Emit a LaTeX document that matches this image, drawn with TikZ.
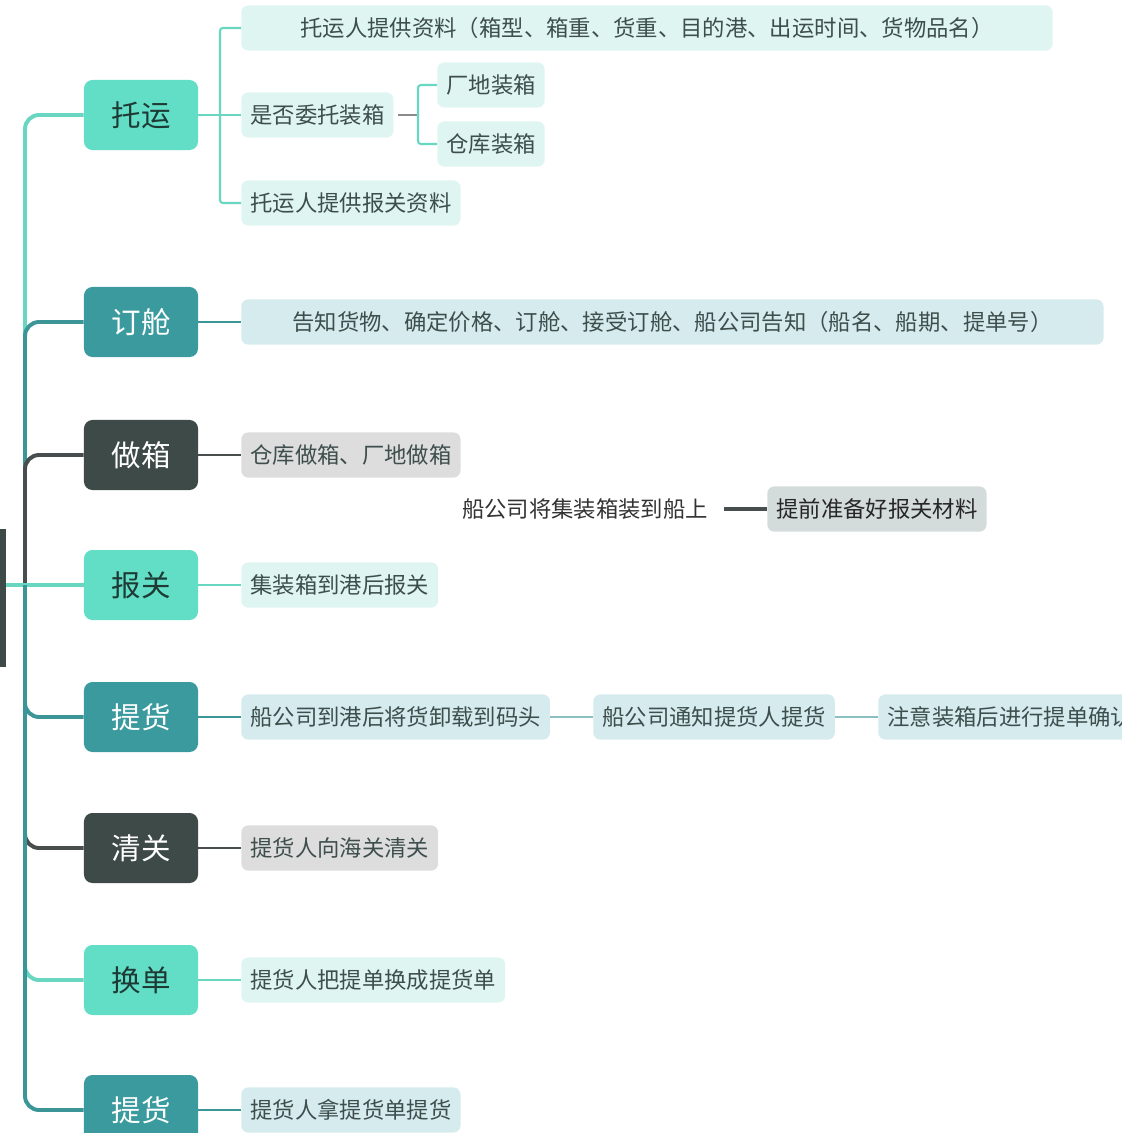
\documentclass[tikz,border=0pt]{standalone}
\usepackage{fontspec}
\setmainfont{Noto Sans CJK SC}
\definecolor{maplight}{RGB}{98,221,198}
\definecolor{mapteal}{RGB}{58,154,158}
\definecolor{mapdark}{RGB}{62,74,71}
\definecolor{maplightline}{RGB}{104,214,192}
\definecolor{maptealline}{RGB}{60,150,152}
\definecolor{mapdarkline}{RGB}{72,78,77}
\definecolor{submint}{RGB}{222,245,241}
\definecolor{subblue}{RGB}{213,235,238}
\definecolor{subgray}{RGB}{221,221,221}
\definecolor{subprep}{RGB}{212,219,219}
\definecolor{subtext}{RGB}{62,78,76}
\definecolor{cattext}{RGB}{30,58,52}
\usetikzlibrary{positioning,calc}

\begin{document}
\begin{tikzpicture}[x=0.025cm,y=-0.025cm,
  catbox/.style={rounded corners=6pt,minimum width=2.85cm,minimum height=1.75cm,
    inner sep=0pt,font=\fontsize{21pt}{24pt}\selectfont},
  lightcat/.style={catbox,fill=maplight,text=cattext},
  tealcat/.style={catbox,fill=mapteal,text=white},
  darkcat/.style={catbox,fill=mapdark,text=white},
  subbox/.style={rounded corners=5pt,minimum height=1.13cm,anchor=west,inner xsep=6.4pt,
    inner ysep=0pt,text=subtext,font=\fontsize{15.9pt}{18pt}\selectfont},
  trunk/.style={line width=2.8pt,rounded corners=10pt},
  twig/.style={line width=1.5pt,rounded corners=2pt}
]
  \useasboundingbox (0,0) rectangle (1122,1133);

  % root, cut off at the left edge
  \node[fill=mapdark,minimum width=3.3cm,minimum height=3.425cm,inner sep=0pt] (root) at (-60,598) {};
  \coordinate (hub) at (25,585);

  % main steps
  \node[lightcat] (tuoyun) at (141,115) {托运};
  \node[tealcat] (dingcang) at (141,322) {订舱};
  \node[darkcat] (zuoxiang) at (141,455) {做箱};
  \node[lightcat] (baoguan) at (141,585) {报关};
  \node[tealcat] (tihuo) at (141,717) {提货};
  \node[darkcat] (qingguan) at (141,848) {清关};
  \node[lightcat] (huandan) at (141,980) {换单};
  \node[tealcat] (tihuob) at (141,1110) {提货};

  % details
  \node[subbox,fill=submint,minimum width=20.28cm] (ty1) at (241,28) {托运人提供资料（箱型、箱重、货重、目的港、出运时间、货物品名）};
  \node[subbox,fill=submint] (ty2) at (241,115) {是否委托装箱};
  \node[subbox,fill=submint] (zx1) at (437,85) {厂地装箱};
  \node[subbox,fill=submint] (zx2) at (437,144) {仓库装箱};
  \node[subbox,fill=submint] (ty3) at (241,203) {托运人提供报关资料};
  \node[subbox,fill=subblue,minimum width=21.55cm] (dc1) at (241,322) {告知货物、确定价格、订舱、接受订舱、船公司告知（船名、船期、提单号）};
  \node[subbox,fill=subgray] (zx) at (241,455) {仓库做箱、厂地做箱};
  \node[anchor=east,text=black!80,font=\fontsize{15.9pt}{18pt}\selectfont] (load) at (713,509) {船公司将集装箱装到船上};
  \node[subbox,fill=subprep,text=black!85] (prep) at (767,509) {提前准备好报关材料};
  \node[subbox,fill=submint] (bg1) at (241,585) {集装箱到港后报关};
  \node[subbox,fill=subblue] (th1) at (241,717) {船公司到港后将货卸载到码头};
  \node[subbox,fill=subblue] (th2) at (593,717) {船公司通知提货人提货};
  \node[subbox,fill=subblue] (th3) at (878,717) {注意装箱后进行提单确认};
  \node[subbox,fill=subgray] (qg1) at (241,848) {提货人向海关清关};
  \node[subbox,fill=submint] (hd1) at (241,980) {提货人把提单换成提货单};
  \node[subbox,fill=subblue] (thb1) at (241,1110) {提货人拿提货单提货};

  % trunk: upper branches
  \draw[trunk,maplightline] (hub) |- (tuoyun.west);
  \draw[trunk,maptealline] (hub) |- (dingcang.west);
  \draw[trunk,mapdarkline] (hub) |- (zuoxiang.west);
  \draw[trunk,maplightline] (root.east |- baoguan) -- (baoguan.west);
  % trunk: lower branches
  \draw[trunk,mapdarkline] (hub) |- (qingguan.west);
  \draw[trunk,maplightline] (hub) |- (huandan.west);
  \draw[trunk,maptealline] (hub) |- (tihuo.west);
  \draw[trunk,maptealline] (hub) |- (tihuob.west);

  % twigs
  \coordinate (tyfork) at (220,115);
  \coordinate (zxfork) at (418,115);
  \draw[twig,maplightline] (tuoyun.east) -- (tyfork);
  \draw[twig,maplightline] (tyfork) |- (ty1.west);
  \draw[twig,maplightline] (tyfork) -- (ty2.west);
  \draw[twig,maplightline] (tyfork) |- (ty3.west);
  \draw[twig,black!45] ($(ty2.east)+(4,0)$) -- (zxfork);
  \draw[twig,maplightline] (zxfork) |- (zx1.west);
  \draw[twig,maplightline] (zxfork) |- (zx2.west);
  \draw[twig,maptealline] (dingcang.east) -- (dc1.west);
  \draw[twig,mapdarkline] (zuoxiang.east) -- (zx.west);
  \draw[line width=2.2pt,mapdarkline,shorten <=8pt] (load.east) -- (prep.west);
  \draw[twig,maplightline] (baoguan.east) -- (bg1.west);
  \draw[twig,maptealline] (tihuo.east) -- (th1.west);
  \draw[twig,maptealline!60] (th1.east) -- (th2.west);
  \draw[twig,maptealline!60] (th2.east) -- (th3.west);
  \draw[twig,mapdarkline] (qingguan.east) -- (qg1.west);
  \draw[twig,maplightline] (huandan.east) -- (hd1.west);
  \draw[twig,maptealline] (tihuob.east) -- (thb1.west);
\end{tikzpicture}
\end{document}
